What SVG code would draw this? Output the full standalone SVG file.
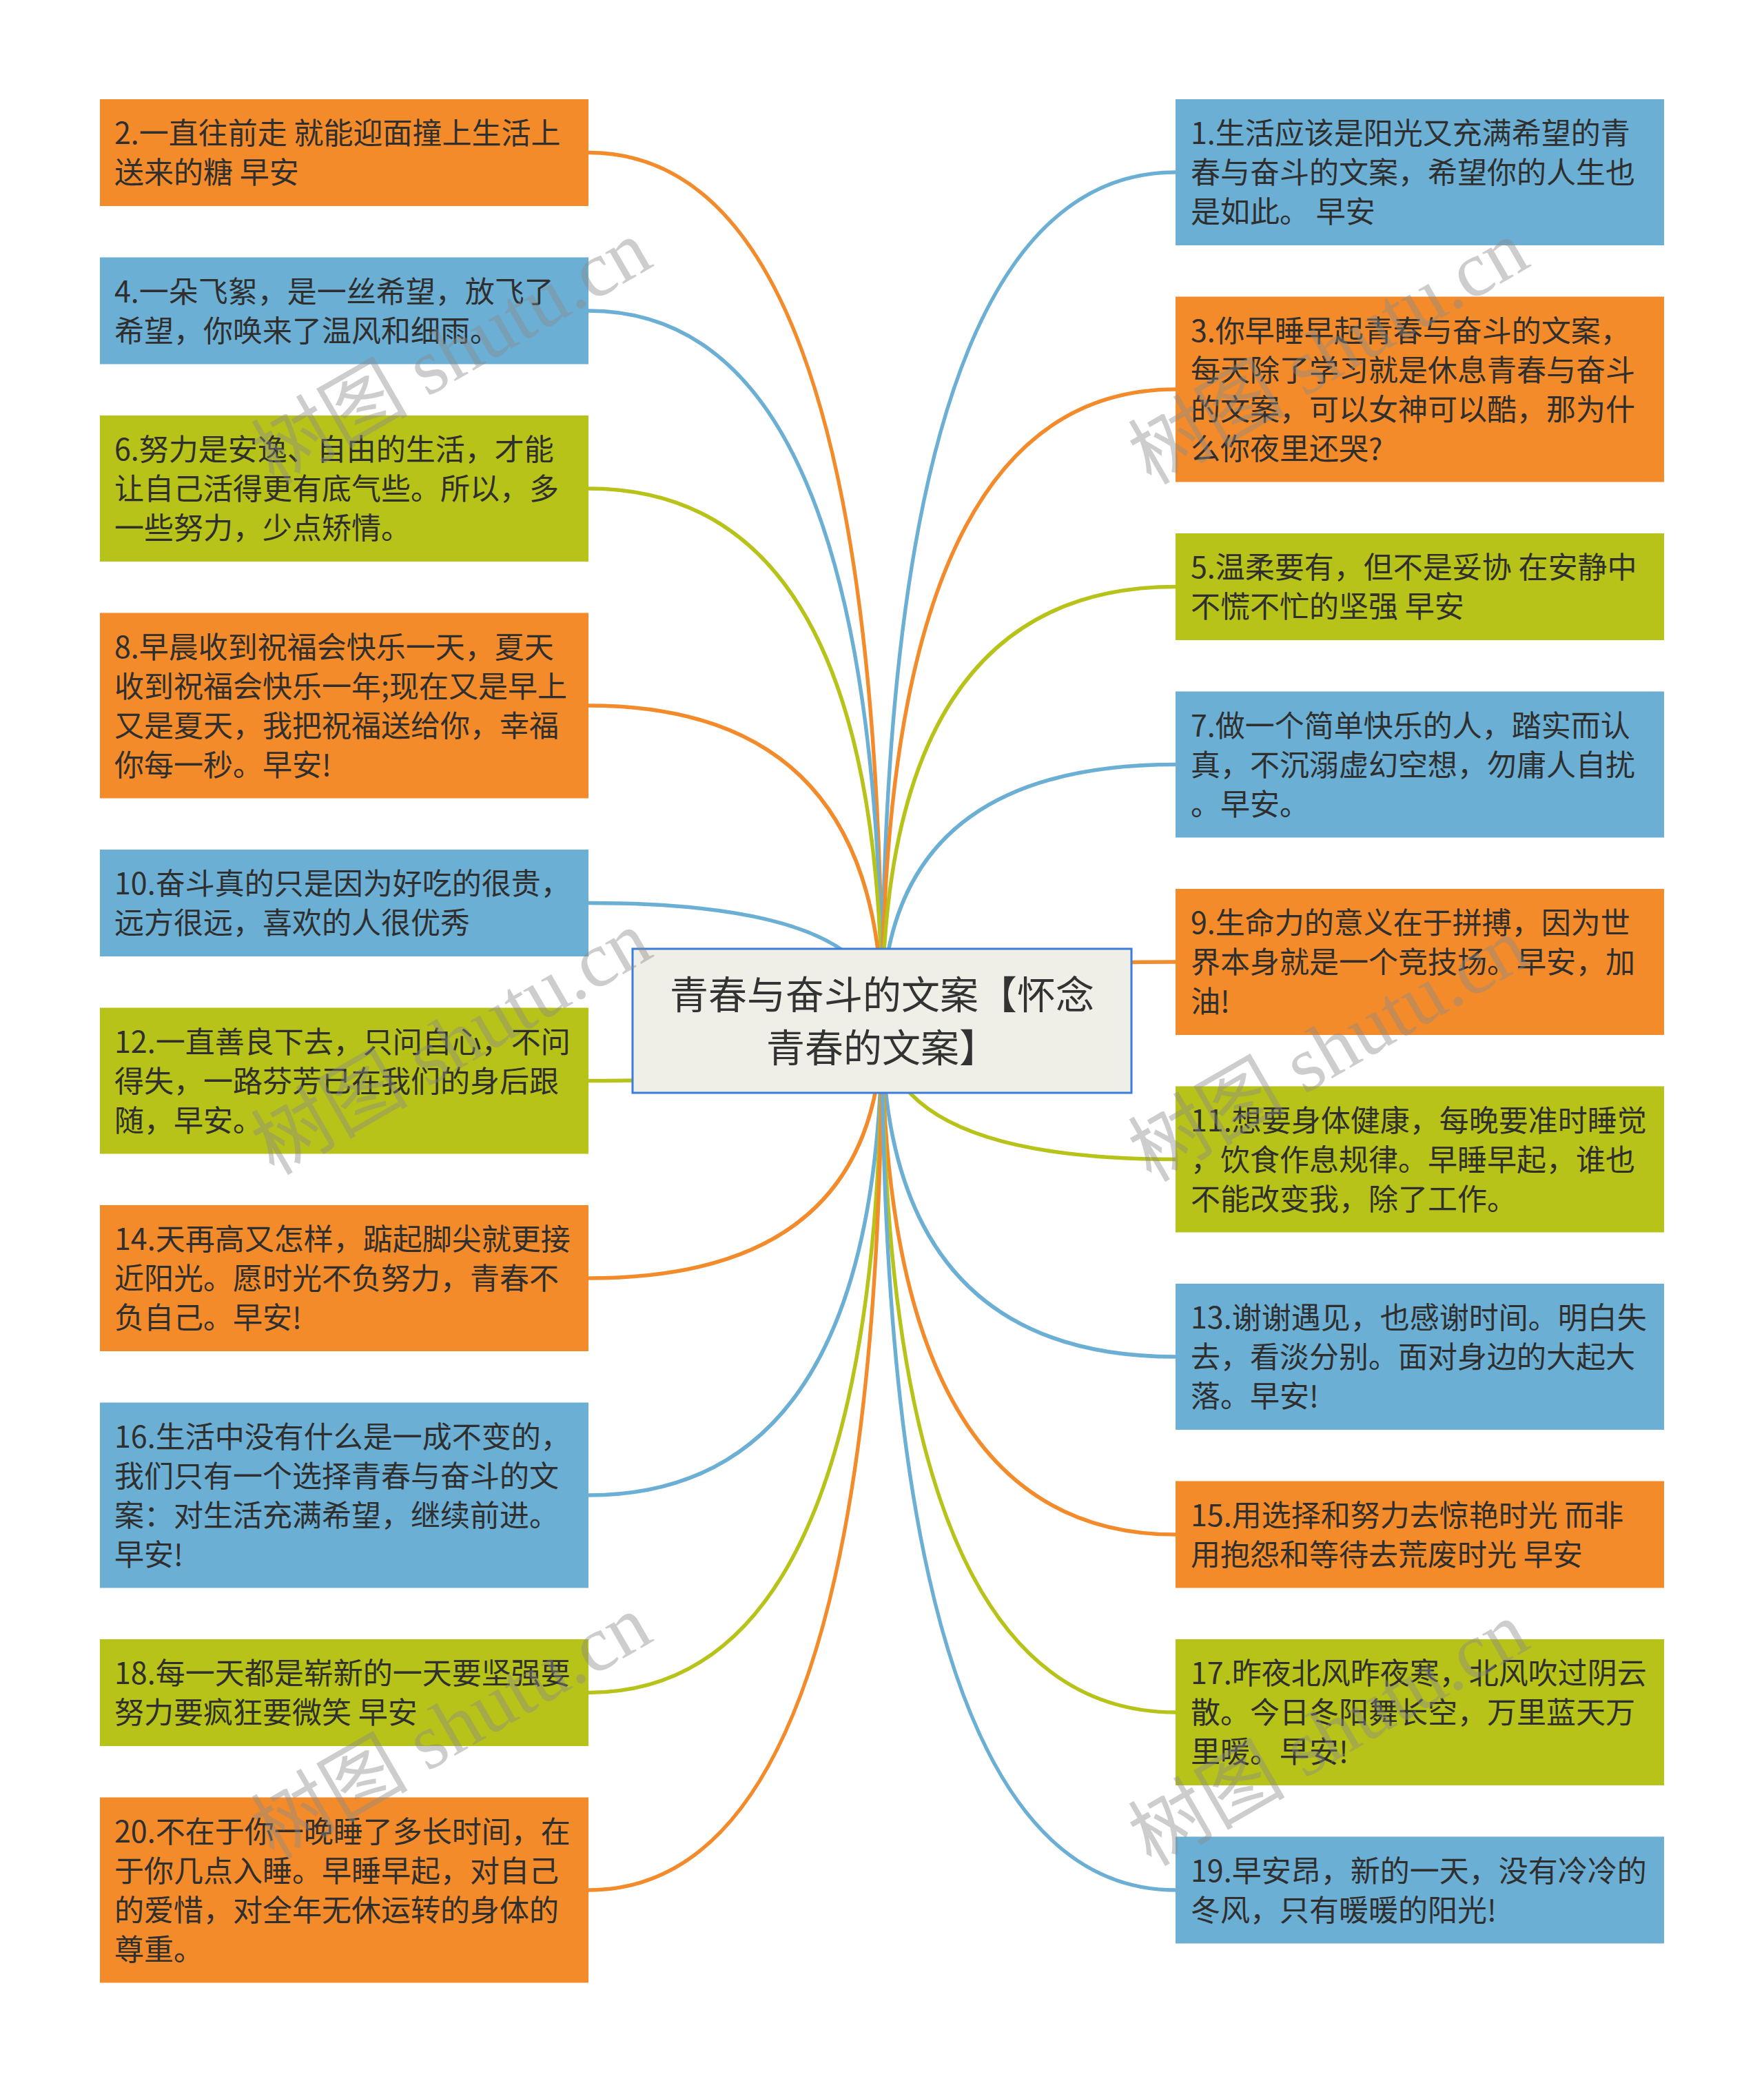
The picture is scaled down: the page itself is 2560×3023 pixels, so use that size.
<svg xmlns="http://www.w3.org/2000/svg" width="2560" height="3023" viewBox="0 0 2560 3023">
<style>
.o{fill:#F38B2B}
.b{fill:#6BAFD4}
.g{fill:#B7C318}
.t{font-family:"Noto Sans CJK SC","Noto Sans",sans-serif;font-size:43px;fill:#2f2f2f}
.ct{font-family:"Noto Sans CJK SC","Noto Sans",sans-serif;font-size:56px;fill:#333333;text-anchor:middle}
.c{fill:none;stroke-width:5.5;stroke-linecap:round}
.co{stroke:#F38B2B}
.cb{stroke:#6BAFD4}
.cg{stroke:#B7C318}
.wm{font-family:"Liberation Serif","Noto Sans CJK SC",serif;font-size:114px;fill:#8a8a8a;opacity:0.42;text-anchor:middle}
</style>
<rect width="2560" height="3023" fill="#ffffff"/>
<g id="connectors">
<path class="c co" d="M1280,1481 Q1280,221.5 854,221.5"/>
<path class="c cb" d="M1280,1481 Q1280,451 854,451"/>
<path class="c cg" d="M1280,1481 Q1280,709 854,709"/>
<path class="c co" d="M1280,1481 Q1280,1024 854,1024"/>
<path class="c cb" d="M1280,1481 Q1280,1310.5 854,1310.5"/>
<path class="c cg" d="M1280,1481 Q1280,1568.5 854,1568.5"/>
<path class="c co" d="M1280,1481 Q1280,1855 854,1855"/>
<path class="c cb" d="M1280,1481 Q1280,2170 854,2170"/>
<path class="c cg" d="M1280,1481 Q1280,2456.5 854,2456.5"/>
<path class="c co" d="M1280,1481 Q1280,2743 854,2743"/>
<path class="c cb" d="M1280,1481 Q1280,250 1706,250"/>
<path class="c co" d="M1280,1481 Q1280,565 1706,565"/>
<path class="c cg" d="M1280,1481 Q1280,851.5 1706,851.5"/>
<path class="c cb" d="M1280,1481 Q1280,1109.5 1706,1109.5"/>
<path class="c co" d="M1280,1481 Q1280,1396 1706,1396"/>
<path class="c cg" d="M1280,1481 Q1280,1682.5 1706,1682.5"/>
<path class="c cb" d="M1280,1481 Q1280,1969 1706,1969"/>
<path class="c co" d="M1280,1481 Q1280,2227 1706,2227"/>
<path class="c cg" d="M1280,1481 Q1280,2485 1706,2485"/>
<path class="c cb" d="M1280,1481 Q1280,2743 1706,2743"/>
</g>
<g id="center">
<rect x="918" y="1377" width="724" height="209" fill="#EFEEE7" stroke="#3B7DD8" stroke-width="3"/>
<text class="ct"><tspan x="1280" y="1464">青春与奋斗的文案【怀念</tspan><tspan x="1280" y="1541">青春的文案】</tspan></text>
</g>
<g id="n2"><rect class="o" x="145" y="144" width="709" height="155"/><text class="t"><tspan x="166" y="209">2.一直往前走 就能迎面撞上生活上</tspan><tspan x="166" y="266">送来的糖 早安</tspan></text></g>
<g id="n4"><rect class="b" x="145" y="373.5" width="709" height="155"/><text class="t"><tspan x="166" y="438.5">4.一朵飞絮，是一丝希望，放飞了</tspan><tspan x="166" y="495.5">希望，你唤来了温风和细雨。</tspan></text></g>
<g id="n6"><rect class="g" x="145" y="603" width="709" height="212"/><text class="t"><tspan x="166" y="668">6.努力是安逸、自由的生活，才能</tspan><tspan x="166" y="725">让自己活得更有底气些。所以，多</tspan><tspan x="166" y="782">一些努力，少点矫情。</tspan></text></g>
<g id="n8"><rect class="o" x="145" y="889.5" width="709" height="269"/><text class="t"><tspan x="166" y="954.5">8.早晨收到祝福会快乐一天，夏天</tspan><tspan x="166" y="1011.5">收到祝福会快乐一年;现在又是早上</tspan><tspan x="166" y="1068.5">又是夏天，我把祝福送给你，幸福</tspan><tspan x="166" y="1125.5">你每一秒。早安!</tspan></text></g>
<g id="n10"><rect class="b" x="145" y="1233" width="709" height="155"/><text class="t"><tspan x="166" y="1298">10.奋斗真的只是因为好吃的很贵，</tspan><tspan x="166" y="1355">远方很远，喜欢的人很优秀</tspan></text></g>
<g id="n12"><rect class="g" x="145" y="1462.5" width="709" height="212"/><text class="t"><tspan x="166" y="1527.5">12.一直善良下去，只问自心，不问</tspan><tspan x="166" y="1584.5">得失，一路芬芳已在我们的身后跟</tspan><tspan x="166" y="1641.5">随，早安。</tspan></text></g>
<g id="n14"><rect class="o" x="145" y="1749" width="709" height="212"/><text class="t"><tspan x="166" y="1814">14.天再高又怎样，踮起脚尖就更接</tspan><tspan x="166" y="1871">近阳光。愿时光不负努力，青春不</tspan><tspan x="166" y="1928">负自己。早安!</tspan></text></g>
<g id="n16"><rect class="b" x="145" y="2035.5" width="709" height="269"/><text class="t"><tspan x="166" y="2100.5">16.生活中没有什么是一成不变的，</tspan><tspan x="166" y="2157.5">我们只有一个选择青春与奋斗的文</tspan><tspan x="166" y="2214.5">案：对生活充满希望，继续前进。</tspan><tspan x="166" y="2271.5">早安!</tspan></text></g>
<g id="n18"><rect class="g" x="145" y="2379" width="709" height="155"/><text class="t"><tspan x="166" y="2444">18.每一天都是崭新的一天要坚强要</tspan><tspan x="166" y="2501">努力要疯狂要微笑 早安</tspan></text></g>
<g id="n20"><rect class="o" x="145" y="2608.5" width="709" height="269"/><text class="t"><tspan x="166" y="2673.5">20.不在于你一晚睡了多长时间，在</tspan><tspan x="166" y="2730.5">于你几点入睡。早睡早起，对自己</tspan><tspan x="166" y="2787.5">的爱惜，对全年无休运转的身体的</tspan><tspan x="166" y="2844.5">尊重。</tspan></text></g>
<g id="n1"><rect class="b" x="1706" y="144" width="709" height="212"/><text class="t"><tspan x="1728" y="209">1.生活应该是阳光又充满希望的青</tspan><tspan x="1728" y="266">春与奋斗的文案，希望你的人生也</tspan><tspan x="1728" y="323">是如此。 早安</tspan></text></g>
<g id="n3"><rect class="o" x="1706" y="430.5" width="709" height="269"/><text class="t"><tspan x="1728" y="495.5">3.你早睡早起青春与奋斗的文案，</tspan><tspan x="1728" y="552.5">每天除了学习就是休息青春与奋斗</tspan><tspan x="1728" y="609.5">的文案，可以女神可以酷，那为什</tspan><tspan x="1728" y="666.5">么你夜里还哭?</tspan></text></g>
<g id="n5"><rect class="g" x="1706" y="774" width="709" height="155"/><text class="t"><tspan x="1728" y="839">5.温柔要有，但不是妥协 在安静中</tspan><tspan x="1728" y="896">不慌不忙的坚强 早安</tspan></text></g>
<g id="n7"><rect class="b" x="1706" y="1003.5" width="709" height="212"/><text class="t"><tspan x="1728" y="1068.5">7.做一个简单快乐的人，踏实而认</tspan><tspan x="1728" y="1125.5">真，不沉溺虚幻空想，勿庸人自扰</tspan><tspan x="1728" y="1182.5">。早安。</tspan></text></g>
<g id="n9"><rect class="o" x="1706" y="1290" width="709" height="212"/><text class="t"><tspan x="1728" y="1355">9.生命力的意义在于拼搏，因为世</tspan><tspan x="1728" y="1412">界本身就是一个竞技场。早安，加</tspan><tspan x="1728" y="1469">油!</tspan></text></g>
<g id="n11"><rect class="g" x="1706" y="1576.5" width="709" height="212"/><text class="t"><tspan x="1728" y="1641.5">11.想要身体健康，每晚要准时睡觉</tspan><tspan x="1728" y="1698.5">，饮食作息规律。早睡早起，谁也</tspan><tspan x="1728" y="1755.5">不能改变我，除了工作。</tspan></text></g>
<g id="n13"><rect class="b" x="1706" y="1863" width="709" height="212"/><text class="t"><tspan x="1728" y="1928">13.谢谢遇见，也感谢时间。明白失</tspan><tspan x="1728" y="1985">去，看淡分别。面对身边的大起大</tspan><tspan x="1728" y="2042">落。早安!</tspan></text></g>
<g id="n15"><rect class="o" x="1706" y="2149.5" width="709" height="155"/><text class="t"><tspan x="1728" y="2214.5">15.用选择和努力去惊艳时光 而非</tspan><tspan x="1728" y="2271.5">用抱怨和等待去荒废时光 早安</tspan></text></g>
<g id="n17"><rect class="g" x="1706" y="2379" width="709" height="212"/><text class="t"><tspan x="1728" y="2444">17.昨夜北风昨夜寒，北风吹过阴云</tspan><tspan x="1728" y="2501">散。今日冬阳舞长空，万里蓝天万</tspan><tspan x="1728" y="2558">里暖。早安!</tspan></text></g>
<g id="n19"><rect class="b" x="1706" y="2665.5" width="709" height="155"/><text class="t"><tspan x="1728" y="2730.5">19.早安昂，新的一天，没有冷冷的</tspan><tspan x="1728" y="2787.5">冬风，只有暖暖的阳光!</tspan></text></g>
<g id="watermarks">
<text class="wm" x="655" y="550" transform="rotate(-30 655 511)">树图 shutu.cn</text>
<text class="wm" x="1928" y="550" transform="rotate(-30 1928 511)">树图 shutu.cn</text>
<text class="wm" x="655" y="1552" transform="rotate(-30 655 1513)">树图 shutu.cn</text>
<text class="wm" x="1928" y="1562" transform="rotate(-30 1928 1523)">树图 shutu.cn</text>
<text class="wm" x="655" y="2545" transform="rotate(-30 655 2506)">树图 shutu.cn</text>
<text class="wm" x="1928" y="2555" transform="rotate(-30 1928 2516)">树图 shutu.cn</text>
</g>
</svg>
